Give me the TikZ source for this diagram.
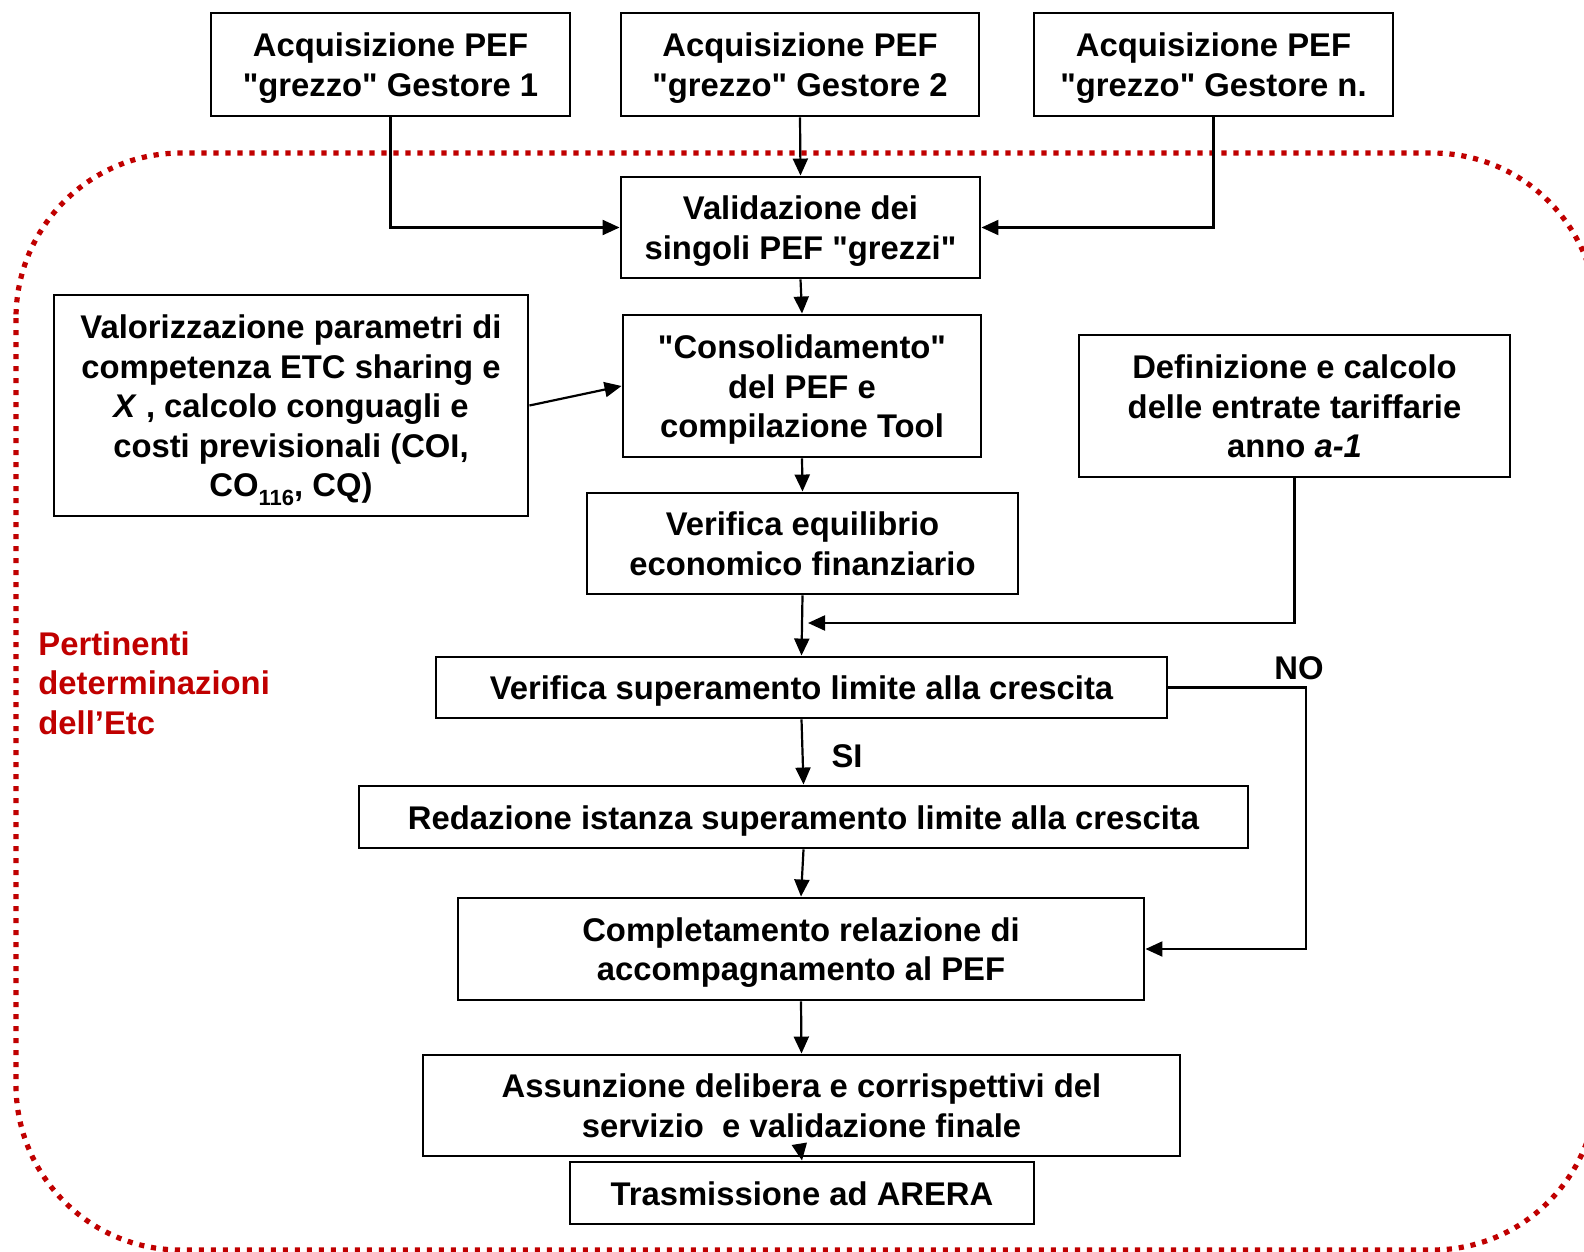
\documentclass[tikz,border=0pt]{standalone}
\usepackage{fontspec}
\setmainfont{Liberation Sans}[Ligatures=TeXOff]
\usetikzlibrary{arrows.meta}
\definecolor{etcred}{HTML}{C00000}
% centred multi-line box text, set slightly low in its frame
\newcommand\boxtext[1]{\raisebox{-2.1pt}[\height][\depth]{\begin{tabular}{@{}c@{}}#1\end{tabular}}}
% lowered small index
\newcommand\lowidx[1]{\raisebox{-4.5pt}{\fontsize{11}{12}\selectfont #1}}
\begin{document}
\begin{tikzpicture}[x=0.5pt,y=-0.5pt,
  box/.style={draw, line width=1.45pt, inner sep=0pt,
    font=\bfseries\fontsize{16.4}{19.8}\selectfont},
  flow/.style={line width=1.1pt, -{Triangle[length=8.5pt,width=7.5pt]}},
  lbl/.style={font=\bfseries\fontsize{16.4}{19.8}\selectfont, inner sep=0pt}]
\useasboundingbox (0,0) rectangle (1584,1252);
% dotted frame around the Etc steps
\draw[etcred, line width=2.6pt, dash pattern=on 2.6pt off 3.4pt,
  rounded corners=82.5pt] (16,153) rectangle (1597,1250);

% operator inputs
\node[box, minimum width=179.5pt, minimum height=51.5pt] (g1) at (390.5,64.5)
  {\boxtext{Acquisizione PEF\\"grezzo" Gestore 1}};
\node[box, minimum width=179pt, minimum height=51.5pt] (g2) at (800,64.5)
  {\boxtext{Acquisizione PEF\\"grezzo" Gestore 2}};
\node[box, minimum width=179.5pt, minimum height=51.5pt] (gn) at (1213.5,64.5)
  {\boxtext{Acquisizione PEF\\"grezzo" Gestore n.}};

% process steps
\node[box, minimum width=179.5pt, minimum height=50.5pt] (valid) at (800.5,227.5)
  {\boxtext{Validazione dei\\singoli PEF "grezzi"}};
\node[box, minimum width=237pt, minimum height=110.5pt] (valor) at (291,405.5)
  {\boxtext{Valorizzazione parametri di\\competenza ETC sharing e\\\textit{X} , calcolo conguagli e\\costi previsionali (COI,\\CO\lowidx{116}, CQ)}};
\node[box, minimum width=179pt, minimum height=71pt] (consol) at (802,386)
  {\boxtext{"Consolidamento"\\del PEF e\\compilazione Tool}};
\node[box, minimum width=215.5pt, minimum height=71pt] (def) at (1294.5,406)
  {\boxtext{Definizione e calcolo\\delle entrate tariffarie\\anno \textit{a-1}}};
\node[box, minimum width=215.5pt, minimum height=50.5pt] (vereq) at (802.5,543.5)
  {\boxtext{Verifica equilibrio\\economico finanziario}};
\node[box, minimum width=365.5pt, minimum height=30.5pt] (versup) at (801.5,687.5)
  {\boxtext{Verifica superamento limite alla crescita}};
\node[box, minimum width=444.5pt, minimum height=31pt] (red) at (803.5,817)
  {\boxtext{Redazione istanza superamento limite alla crescita}};
\node[box, minimum width=343pt, minimum height=51pt] (compl) at (801,949)
  {\boxtext{Completamento relazione di\\accompagnamento al PEF}};
\node[box, minimum width=378.5pt, minimum height=50.5pt] (assun) at (801.5,1105.5)
  {\boxtext{Assunzione delibera e corrispettivi del\\servizio \ e validazione finale}};
\node[box, minimum width=232pt, minimum height=31pt] (trasm) at (802,1193)
  {\boxtext{Trasmissione ad ARERA}};

% labels
\node[lbl, text=etcred, align=left, anchor=west] (pert) at (38,683)
  {Pertinenti\\determinazioni\\dell’Etc};
\node[lbl] (no) at (1299,668) {NO};
\node[lbl] (si) at (847,756) {SI};

% connectors
\coordinate (join) at (808,623);
\coordinate (noturn) at (1306,687.5);
\draw[flow] (g1.south) |- (valid.west);
\draw[flow] (g2.south) -- (valid.north);
\draw[flow] (gn.south) |- (valid.east);
\draw[flow] (valid.south) -- (consol.north);
\draw[flow] (valor.east) -- (consol.west);
\draw[flow] (consol.south) -- (vereq.north);
\draw[flow] (vereq.south) -- (versup.north);
\draw[flow] (def.south) |- (join);
\draw[flow] (versup.south) -- (red.north);
\draw[flow] (versup.east) -- (noturn) |- (compl.east);
\draw[flow] (red.south) -- (compl.north);
\draw[flow] (compl.south) -- (assun.north);
\draw[flow] (assun.south) -- (trasm.north);
\end{tikzpicture}
\end{document}
